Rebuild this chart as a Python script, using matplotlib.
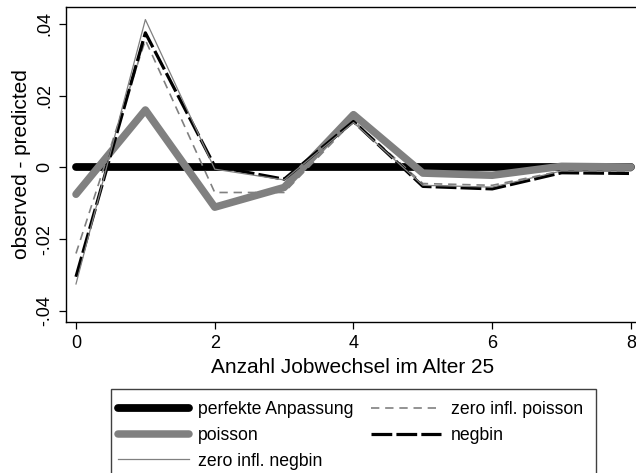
import matplotlib.pyplot as plt
from matplotlib.patches import Rectangle
import numpy as np

plt.rcParams['font.family'] = ['Liberation Sans', 'DejaVu Sans']

jobs = [0, 1, 2, 3, 4, 5, 6, 7, 8]
perfect = [0, 0, 0, 0, 0, 0, 0, 0, 0]
poisson = [-0.0075, 0.0160, -0.0111, -0.0056, 0.0147, -0.0016, -0.0022, 0.0003, 0.0001]
zip_ = [-0.0240, 0.0355, -0.0070, -0.0070, 0.0130, -0.0045, -0.0050, -0.0010, -0.0010]
negbin = [-0.0305, 0.0375, 0.0003, -0.0033, 0.0128, -0.0053, -0.0060, -0.0015, -0.0017]
zinb = [-0.0325, 0.0412, -0.0005, -0.0035, 0.0125, -0.0050, -0.0055, -0.0010, -0.0010]

yticks = [-0.04, -0.02, 0, 0.02, 0.04]
ytick_labels = ["-.04", "-.02", "0", ".02", ".04"]
xticks = [0, 2, 4, 6, 8]

W, H = 636, 473
fig = plt.figure(figsize=(W / 100, H / 100), dpi=100)
ax = fig.add_axes([66 / W, 1 - 322 / H, (640 - 66) / W, (322 - 7) / H])

l1, = ax.plot(jobs, perfect, color='black', lw=5.6, solid_capstyle='round', zorder=2)
l2, = ax.plot(jobs, zip_, color='#808080', lw=1.2, dashes=(5, 3.5), zorder=3)
l3, = ax.plot(jobs, poisson, color='#808080', lw=5.4, solid_capstyle='round',
              solid_joinstyle='round', zorder=4)
l4, = ax.plot(jobs, negbin, color='black', lw=2.3, dashes=(6.5, 1.3), zorder=5)
l5, = ax.plot(jobs, zinb, color='#808080', lw=0.9, zorder=6)

ax.set_xlim(-0.144, 8.13)
ax.set_ylim(-0.0431, 0.0447)
ax.set_xticks(xticks)
ax.set_yticks(yticks)
ax.set_yticklabels(ytick_labels, rotation=90, va='center')
ax.tick_params(direction='out', length=5, width=0.9, labelsize=13, pad=4)
for s in ax.spines.values():
    s.set_linewidth(1.0)

ax.set_xlabel("Anzahl Jobwechsel im Alter 25", fontsize=15, labelpad=5)
ax.set_ylabel("observed - predicted", fontsize=15, labelpad=4)

# legend box runs past the bottom edge
fig.patches.append(Rectangle((111 / W, -0.05), (596 - 111) / W, (H - 389) / H + 0.05,
                             transform=fig.transFigure, fill=False,
                             edgecolor='#404040', lw=1.0))
fig.legend([l1, l3, l5, l2, l4],
           ["perfekte Anpassung", "poisson", "zero infl. negbin",
            "zero infl. poisson", "negbin"],
           ncol=2, frameon=False, fontsize=12.7, handlelength=4.0,
           handletextpad=0.55, columnspacing=0.95, labelspacing=0.5,
           borderpad=0, borderaxespad=0,
           loc='upper left', bbox_to_anchor=(118 / W, 1 - 401 / H))

fig.savefig("out.png", dpi=100)
